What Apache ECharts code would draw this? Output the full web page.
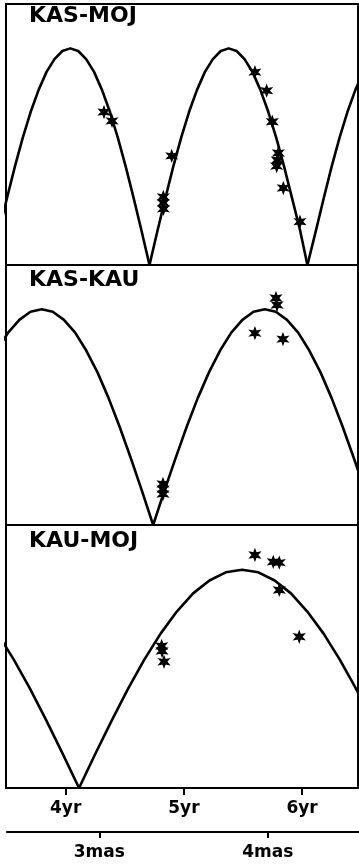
<!DOCTYPE html>
<html><head><meta charset="utf-8">
<script src="https://cdn.jsdelivr.net/npm/echarts@6/dist/echarts.min.js"></script>
<style>html,body{margin:0;padding:0;background:#fff}#c{width:359px;height:867px}</style>
</head><body><div id="c"></div>
<script>
// ---- data ----
const panelTitles = ['KAS-MOJ', 'KAS-KAU', 'KAU-MOJ'];
const yearTicks = [4, 5, 6];
const masTicks = [3, 4];

// model visibility curves [epoch (yr), amplitude]; each panel is a list of arches
const kasMojArch0 = [[3.369,0],[3.436,0.130],[3.503,0.256],[3.570,0.377],[3.637,0.488],[3.704,0.587],[3.771,0.671],[3.838,0.740],[3.905,0.789],[3.972,0.820],[4.039,0.830],[4.106,0.820],[4.173,0.789],[4.240,0.740],[4.307,0.671],[4.374,0.587],[4.441,0.488],[4.508,0.377],[4.575,0.256],[4.642,0.130],[4.709,0]];
const kasMojArch1 = [[4.709,0],[4.776,0.130],[4.843,0.256],[4.910,0.377],[4.977,0.488],[5.044,0.587],[5.111,0.671],[5.178,0.740],[5.245,0.789],[5.312,0.820],[5.379,0.830],[5.446,0.820],[5.513,0.789],[5.580,0.740],[5.647,0.671],[5.714,0.587],[5.781,0.488],[5.848,0.377],[5.915,0.256],[5.982,0.135],[6.045,0]];
const kasMojArch2 = [[6.045,0],[6.116,0.130],[6.183,0.256],[6.250,0.377],[6.317,0.488],[6.384,0.587],[6.451,0.671],[6.518,0.740]];

const kasKauArch0 = [[2.853,0],[2.947,0.130],[3.042,0.256],[3.136,0.377],[3.230,0.488],[3.325,0.587],[3.419,0.671],[3.513,0.740],[3.608,0.789],[3.702,0.820],[3.797,0.830],[3.891,0.820],[3.985,0.789],[4.080,0.740],[4.174,0.671],[4.269,0.587],[4.363,0.488],[4.457,0.377],[4.552,0.256],[4.646,0.130],[4.740,0]];
const kasKauArch1 = [[4.740,0],[4.834,0.130],[4.929,0.256],[5.023,0.377],[5.117,0.488],[5.212,0.587],[5.306,0.671],[5.401,0.740],[5.495,0.789],[5.589,0.820],[5.684,0.830],[5.778,0.820],[5.872,0.789],[5.967,0.740],[6.061,0.671],[6.156,0.587],[6.250,0.488],[6.344,0.377],[6.439,0.256],[6.533,0.130],[6.627,0]];

const kauMojArch0 = [[3.286,0.671],[3.424,0.587],[3.561,0.488],[3.699,0.377],[3.837,0.256],[3.975,0.130],[4.113,0]];
const kauMojArch1 = [[4.113,0],[4.251,0.130],[4.389,0.256],[4.527,0.377],[4.665,0.488],[4.803,0.587],[4.940,0.671],[5.078,0.740],[5.216,0.789],[5.354,0.820],[5.492,0.830],[5.630,0.820],[5.768,0.789],[5.906,0.740],[6.044,0.671],[6.182,0.587],[6.319,0.488],[6.457,0.377],[6.595,0.256],[6.733,0.130],[6.871,0]];

// measured points [epoch (yr), amplitude]
const kasMojObs = [[4.324,0.586],[4.392,0.552],[4.897,0.418],[4.826,0.261],[4.826,0.238],[4.827,0.215],
  [5.601,0.739],[5.700,0.668],[5.748,0.549],[5.799,0.429],[5.790,0.402],[5.785,0.379],[5.841,0.295],[5.982,0.166]];
const kasKauObs = [[5.779,0.873],[5.788,0.846],[5.601,0.738],[5.838,0.715],[4.823,0.158],[4.823,0.138],[4.823,0.119]];
const kauMojObs = [[5.601,0.886],[5.756,0.860],[5.807,0.857],[5.807,0.753],[5.976,0.575],[4.812,0.540],[4.815,0.521],[4.832,0.480]];

const curves = [[kasMojArch0, kasMojArch1, kasMojArch2], [kasKauArch0, kasKauArch1], [kauMojArch0, kauMojArch1]];
const observations = [kasMojObs, kasKauObs, kauMojObs];

// ---- chart ----
const yrMin = 3.495, yrMax = 6.473;
const masMin = 2.452, masMax = 4.542;
const asterisk = 'path://M0 -10 L2.2 -3.8 L8.66 -5 L4.4 0 L8.66 5 L2.2 3.8 L0 10 L-2.2 3.8 L-8.66 5 L-4.4 0 L-8.66 -5 L-2.2 -3.8 Z';
const FONT = '"DejaVu Sans", sans-serif';

const gridPos = [{top: 4, height: 261}, {top: 265, height: 260}, {top: 525, height: 263}];
const grids = gridPos.map(g => ({left: 6, right: 1, top: g.top, height: g.height, show: true,
  borderColor: '#000', borderWidth: 2, backgroundColor: 'transparent'}));
grids.push({left: 7, right: 0, top: 831, height: 1, show: false});

const xAxes = [0, 1, 2].map(i => ({
  type: 'value', gridIndex: i, min: yrMin, max: yrMax,
  axisLine: {show: i === 2, lineStyle: {color: '#000', width: 2}},
  axisTick: {show: i === 2, length: 7, inside: false, customValues: yearTicks, lineStyle: {color: '#000', width: 2}},
  axisLabel: {show: i === 2, customValues: yearTicks, margin: 12, formatter: v => v + 'yr',
    color: '#000', fontFamily: FONT, fontWeight: 'bold', fontSize: 17},
  splitLine: {show: false}
}));
xAxes.push({
  type: 'value', gridIndex: 3, min: masMin, max: masMax, position: 'bottom',
  axisLine: {show: true, lineStyle: {color: '#000', width: 2}},
  axisTick: {show: true, length: 6, customValues: masTicks, lineStyle: {color: '#000', width: 2}},
  axisLabel: {show: true, customValues: masTicks, margin: 12, formatter: v => v + 'mas',
    color: '#000', fontFamily: FONT, fontWeight: 'bold', fontSize: 17},
  splitLine: {show: false}
});
const yAxes = [0, 1, 2, 3].map(i => ({type: 'value', gridIndex: i, min: 0, max: 1, show: false}));

const series = [];
curves.forEach((arches, i) => {
  arches.forEach(arch => series.push({
    type: 'line', xAxisIndex: i, yAxisIndex: i, data: arch, smooth: false, symbol: 'none',
    lineStyle: {color: '#000', width: 2.6, join: 'round'}, silent: true, animation: false
  }));
});
observations.forEach((obs, i) => series.push({
  type: 'scatter', xAxisIndex: i, yAxisIndex: i, data: obs, symbol: asterisk, symbolSize: [10, 11],
  itemStyle: {color: '#000', borderColor: '#000', borderWidth: 1.2, opacity: 1}, animation: false
}));

const titleTops = [8, 272, 533];
const titles = panelTitles.map((t, i) => ({text: t, left: 29, top: titleTops[i], padding: 0,
  textStyle: {fontFamily: FONT, fontWeight: 'bold', fontSize: 22, color: '#000', lineHeight: 16}}));

const chart = echarts.init(document.getElementById('c'), null, {renderer: 'canvas'});
chart.setOption({animation: false, backgroundColor: '#fff', title: titles, grid: grids,
  xAxis: xAxes, yAxis: yAxes, series: series});
</script>
</body></html>
